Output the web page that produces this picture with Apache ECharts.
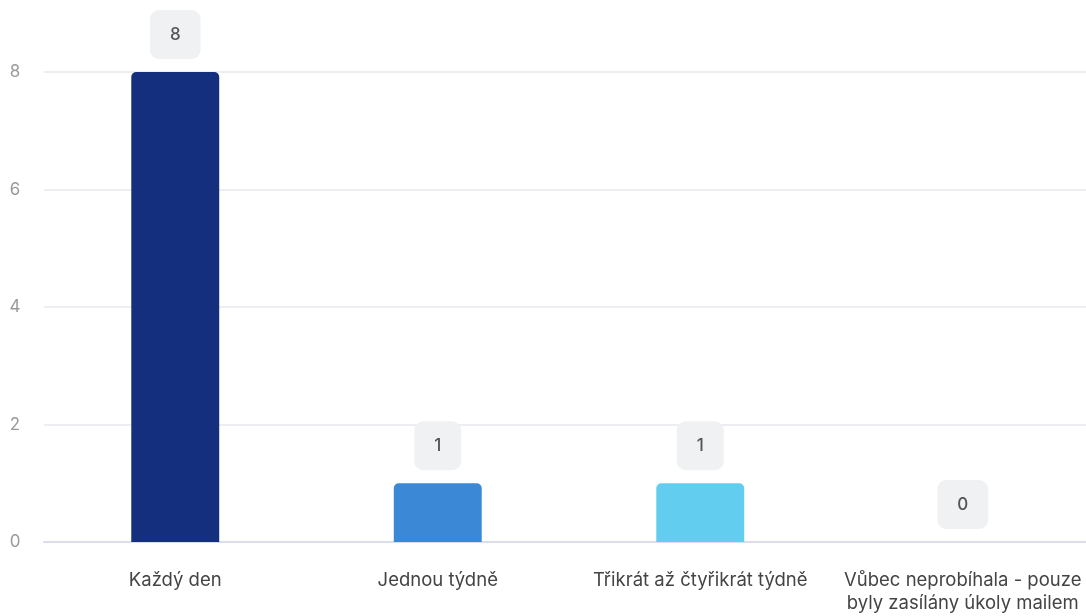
<!DOCTYPE html>
<html>
<head>
<meta charset="utf-8">
<script src="https://cdn.jsdelivr.net/npm/echarts@6/dist/echarts.min.js"></script>
<style>
html,body{margin:0;padding:0;background:#fff;overflow:hidden;width:1086px;height:616px;}
#chart{width:1094px;height:616px;}
</style>
</head>
<body>
<div id="chart"></div>
<script>
const categories = ['Každý den', 'Jednou týdně', 'Třikrát až čtyřikrát týdně', 'Vůbec neprobíhala - pouze\nbyly zasílány úkoly mailem'];
const values = [8, 1, 1, 0];
const barColors = ['#132f7e', '#3b88d6', '#62cdee', '#2a6fc0'];
const yTicks = { min: 0, max: 8, interval: 2 };

const chart = echarts.init(document.getElementById('chart'), null, { renderer: 'canvas' });
chart.setOption({
  animation: false,
  backgroundColor: '#ffffff',
  textStyle: { fontFamily: 'Inter, "Noto Sans", sans-serif' },
  grid: { left: 44, right: 0, top: 72, bottom: 74, containLabel: false },
  xAxis: {
    type: 'category',
    data: categories,
    axisLine: { show: true, lineStyle: { color: '#d9ddec', width: 2 } },
    axisTick: { show: false },
    axisLabel: { color: '#444444', fontSize: 18.5, margin: 27, lineHeight: 23, interval: 0 }
  },
  yAxis: {
    type: 'value',
    min: yTicks.min, max: yTicks.max, interval: yTicks.interval,
    axisLine: { show: false },
    axisTick: { show: false },
    splitLine: { lineStyle: { color: '#e8e9ee', width: 1.5 } },
    axisLabel: { color: '#9a9a9a', fontSize: 17, margin: 29, align: 'center' }
  },
  series: [{
    type: 'bar',
    data: values.map((v, i) => ({ value: v, itemStyle: { color: barColors[i] } })),
    barWidth: '33.5%',
    itemStyle: { borderRadius: [5, 5, 0, 0] },
    label: {
      show: true,
      position: 'top',
      distance: 13,
      color: '#555555',
      fontSize: 17,
      fontWeight: 500,
      lineHeight: 17,
      backgroundColor: '#f0f1f2',
      borderRadius: 9,
      padding: [16, 20]
    }
  }]
});
</script>
</body>
</html>
